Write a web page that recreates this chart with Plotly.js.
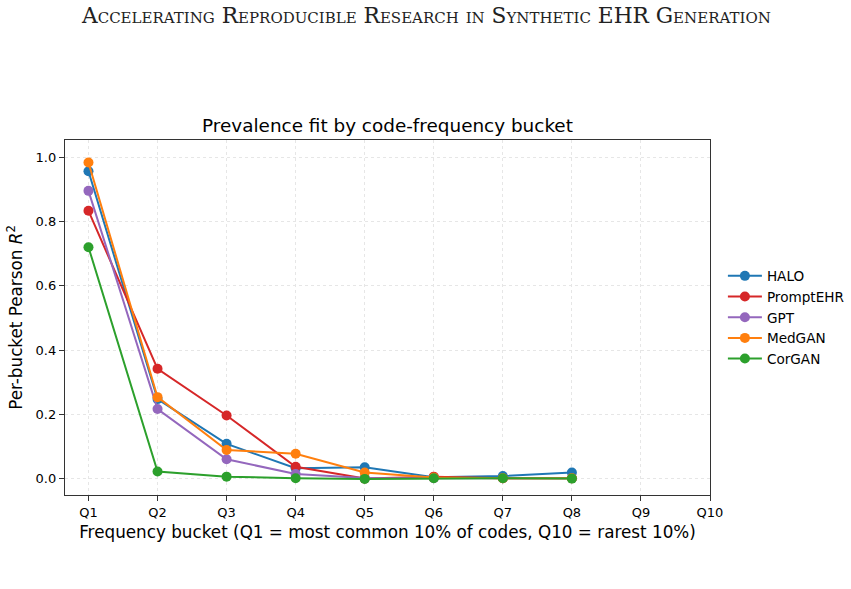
<!DOCTYPE html>
<html>
<head>
<meta charset="utf-8">
<script src="https://cdn.plot.ly/plotly-3.0.1.min.js"></script>
<style>
  html, body { margin: 0; padding: 0; background: #fff; }
  #chart { width: 851px; height: 589px; }
</style>
</head>
<body>
<div id="chart"></div>
<script>
// Categories (frequency buckets)
const buckets = ["Q1", "Q2", "Q3", "Q4", "Q5", "Q6", "Q7", "Q8", "Q9", "Q10"];
const observedBuckets = ["Q1", "Q2", "Q3", "Q4", "Q5", "Q6", "Q7", "Q8"];

// Per-bucket Pearson R^2 values
const halo      = [0.956, 0.248, 0.109, 0.033, 0.036, 0.005, 0.009, 0.020];
const promptEHR = [0.833, 0.342, 0.197, 0.038, 0.001, 0.007, 0.002, 0.002];
const gpt       = [0.895, 0.217, 0.061, 0.015, 0.003, 0.002, 0.002, 0.002];
const medGAN    = [0.983, 0.254, 0.090, 0.078, 0.020, 0.004, 0.002, 0.002];
const corGAN    = [0.720, 0.023, 0.007, 0.002, 0.000, 0.002, 0.002, 0.001];

const seriesNames  = ["HALO", "PromptEHR", "GPT", "MedGAN", "CorGAN"];
const seriesValues = [halo, promptEHR, gpt, medGAN, corGAN];
const seriesColors = ["#1f77b4", "#d62728", "#9467bd", "#ff7f0e", "#2ca02c"];

const headerText = "Accelerating Reproducible Research in Synthetic EHR Generation";
const chartTitle = "Prevalence fit by code-frequency bucket";
const xTitle = "Frequency bucket (Q1 = most common 10% of codes, Q10 = rarest 10%)";
const yTitle = "Per-bucket Pearson <i>R</i><sup>2</sup>";

const traces = seriesNames.map((name, i) => ({
  type: "scatter",
  mode: "lines+markers",
  name: name,
  x: observedBuckets,
  y: seriesValues[i],
  line: { color: seriesColors[i], width: 2 },
  marker: { color: seriesColors[i], size: 10 },
  cliponaxis: false
}));

const font = "DejaVu Sans, Arial, sans-serif";

const layout = {
  width: 851,
  height: 589,
  paper_bgcolor: "#ffffff",
  plot_bgcolor: "#ffffff",
  margin: { l: 65, r: 141, t: 140, b: 94, autoexpand: false },
  font: { family: font, size: 13, color: "#000" },
  title: {
    text: chartTitle,
    font: { family: font, size: 18.4, color: "#000" },
    x: 0.5, xanchor: "center",
    y: 1 - 126 / 589, yanchor: "middle",
    xref: "paper", yref: "container"
  },
  xaxis: {
    type: "category",
    categoryorder: "array",
    categoryarray: buckets,
    tickvals: buckets,
    ticktext: buckets,
    range: [-0.34, 9],
    showgrid: true,
    gridcolor: "#e6e6e6",
    griddash: "dot",
    gridwidth: 1,
    showline: true,
    linecolor: "#333",
    linewidth: 1.2,
    mirror: true,
    ticks: "outside",
    ticklen: 5,
    tickcolor: "#333",
    tickfont: { family: font, size: 13, color: "#000" },
    zeroline: false,
    automargin: false,
    title: { text: xTitle, font: { family: font, size: 16.8, color: "#000" }, standoff: 7 }
  },
  yaxis: {
    range: [-0.05, 1.053],
    tickvals: [0, 0.2, 0.4, 0.6, 0.8, 1.0],
    ticktext: ["0.0", "0.2", "0.4", "0.6", "0.8", "1.0"],
    showgrid: true,
    gridcolor: "#e6e6e6",
    griddash: "dot",
    gridwidth: 1,
    showline: true,
    linecolor: "#333",
    linewidth: 1.2,
    mirror: true,
    ticks: "outside",
    ticklen: 5,
    tickcolor: "#333",
    tickfont: { family: font, size: 13, color: "#000" },
    zeroline: false,
    automargin: false,
    title: { text: yTitle, font: { family: font, size: 16.8, color: "#000" }, standoff: 8 }
  },
  legend: {
    x: 1.02, xanchor: "left",
    y: 0.5, yanchor: "middle",
    font: { family: font, size: 13.6, color: "#000" },
    bgcolor: "rgba(255,255,255,0)",
    tracegroupgap: 0,
    itemwidth: 34
  },
  annotations: [
    {
      text: headerText,
      xref: "paper", yref: "paper",
      x: (426 - 65) / 645, y: (495 - 15) / 355,
      xanchor: "center", yanchor: "middle",
      showarrow: false,
      font: { family: "DejaVu Serif, Liberation Serif, serif", size: 21.7, color: "#222", variant: "small-caps" }
    }
  ]
};

Plotly.newPlot("chart", traces, layout, { displayModeBar: false, staticPlot: true });
</script>
</body>
</html>
